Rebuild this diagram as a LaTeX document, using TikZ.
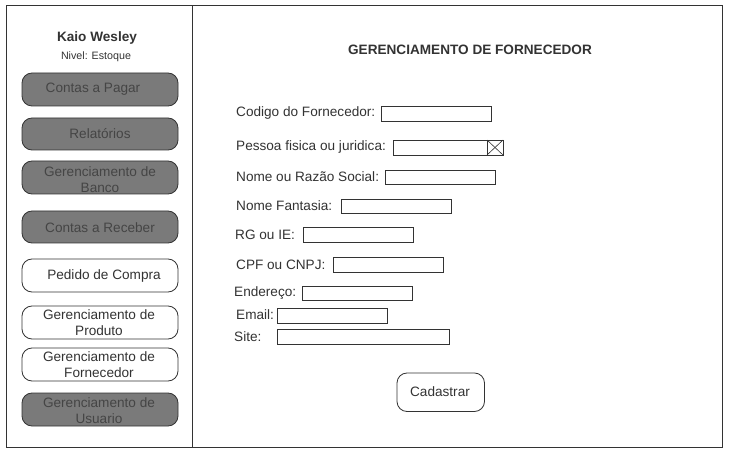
\documentclass[tikz,border=0pt]{standalone}
\usepackage{fontspec}
\setmainfont{Liberation Sans}
\definecolor{linec}{HTML}{333333}
\definecolor{txtc}{HTML}{333333}
\definecolor{btnfill}{HTML}{7A7A7A}
\definecolor{btntxt}{HTML}{454545}
\begin{document}
\begin{tikzpicture}[x=1pt,y=-1pt,
  panel/.style={draw=linec,line width=1pt,fill=white},
  menubtn/.style={draw=linec,line width=0.8pt,rounded corners=10pt,fill=white,text=txtc},
  darkbtn/.style={menubtn,fill=btnfill,text=btntxt},
  btntext/.style={align=center,font=\fontsize{13.6}{16}\selectfont,text=txtc,inner sep=0pt},
  darktext/.style={btntext,text=btntxt},
  lbl/.style={anchor=west,inner sep=0pt,font=\fontsize{13.6}{16}\selectfont,text=txtc},
  field/.style={draw=linec,line width=0.8pt,fill=white}
]
\useasboundingbox (0,0) rectangle (734,457);
% panels
\draw[panel] (6,6) rectangle (192,447);
\draw[panel] (192,6) rectangle (722,447);
% sidebar header
\node[inner sep=0pt,font=\bfseries\fontsize{13.6}{16}\selectfont,text=txtc] (user) at (97,38) {Kaio Wesley};
\node[inner sep=0pt,font=\fontsize{10.7}{13}\selectfont,text=txtc] (nivel) at (96,57) {Nivel: Estoque};
% sidebar buttons
\draw[darkbtn] (22,73) rectangle (178,106);
\node[darktext] (b1) at (93,89.5) {Contas a Pagar};
\draw[darkbtn] (22,118) rectangle (178,150);
\node[darktext] (b2) at (100,134) {Relatórios};
\draw[darkbtn] (22,161) rectangle (178,194);
\node[darktext] (b3) at (100,180) {Gerenciamento de\\Banco};
\draw[darkbtn] (22,211) rectangle (178,243);
\node[darktext] (b4) at (100,228) {Contas a Receber};
\draw[menubtn] (22,259) rectangle (178,292);
\node[btntext] (b5) at (104,275.5) {Pedido de Compra};
\draw[menubtn] (22,306) rectangle (178,339);
\node[btntext] (b6) at (99,322.5) {Gerenciamento de\\Produto};
\draw[menubtn] (22,348) rectangle (178,381);
\node[btntext] (b7) at (99,364.5) {Gerenciamento de\\Fornecedor};
\draw[darkbtn] (22,393) rectangle (178,426);
\node[darktext] (b8) at (99,411) {Gerenciamento de\\Usuario};
% title
\node[inner sep=0pt,font=\bfseries\fontsize{13.6}{16}\selectfont,text=txtc] (title) at (470,50) {GERENCIAMENTO DE FORNECEDOR};
% form
\node[lbl] (l1) at (236,113) {Codigo do Fornecedor:};
\draw[field] (381,106) rectangle (491,121);
\node[lbl] (l2) at (236,147) {Pessoa fisica ou juridica:};
\draw[field] (393,140) rectangle (503,155);
\draw[field] (487,140) rectangle (503,155);
\draw[linec,line width=0.6pt] (487,140) -- (503,155) (487,155) -- (503,140);
\node[lbl] (l3) at (236,177) {Nome ou Razão Social:};
\draw[field] (385,170) rectangle (495,184);
\node[lbl] (l4) at (236,206) {Nome Fantasia:};
\draw[field] (341,199) rectangle (451,213);
\node[lbl] (l5) at (235,235) {RG ou IE:};
\draw[field] (303,227) rectangle (413,242);
\node[lbl] (l6) at (236,265) {CPF ou CNPJ:};
\draw[field] (333,257) rectangle (443,272);
\node[lbl] (l7) at (234,293) {Endereço:};
\draw[field] (302,286) rectangle (412,300);
\node[lbl] (l8) at (236,314.5) {Email:};
\draw[field] (277,308) rectangle (387,323);
\node[lbl] (l9) at (234,336.5) {Site:};
\draw[field] (277,329) rectangle (449,344);
% button
\draw[menubtn] (397,373) rectangle (484.5,411.5);
\node[btntext] (cad) at (440,392) {Cadastrar};
\end{tikzpicture}
\end{document}
